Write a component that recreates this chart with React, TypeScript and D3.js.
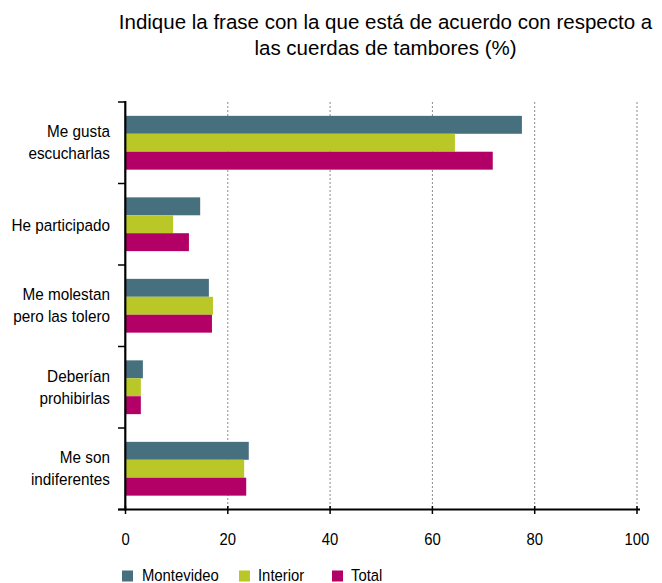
import React from "react";
import * as d3 from "d3";

const categories: string[][] = [
  ["Me gusta", "escucharlas"],
  ["He participado"],
  ["Me molestan", "pero las tolero"],
  ["Deberían", "prohibirlas"],
  ["Me son", "indiferentes"],
];
const seriesNames = ["Montevideo", "Interior", "Total"];
const montevideo = [77.5, 14.6, 16.3, 3.4, 24.1];
const interior = [64.4, 9.3, 17.1, 3.0, 23.2];
const total = [71.8, 12.4, 16.9, 3.0, 23.6];
const xTicks = [0, 20, 40, 60, 80, 100];
const titleLines = [
  "Indique la frase con la que está de acuerdo con respecto a",
  "las cuerdas de tambores (%)",
];
const colors = ["#47707f", "#b9c826", "#b20066"];

const FONT = "'Liberation Sans', Arial, Helvetica, sans-serif";
const SX = 0.9;

export default function App() {
  const W = 662;
  const H = 583;
  const values = [montevideo, interior, total];
  const x = d3.scaleLinear().domain([0, 100]).range([125.5, 637]);
  const catKeys = categories.map((c) => c.join(" "));
  const y = d3.scaleBand<string>().domain(catKeys).range([102, 509.5]).padding(0);
  const bw = y.bandwidth();
  const inner = d3
    .scaleBand<string>()
    .domain(seriesNames)
    .range([bw * 0.17, bw * 0.83])
    .padding(0);
  const axisX = 125.3;
  const axisY = 509.5;
  const boundaries = catKeys.map((k) => y(k) as number).concat([axisY]);

  const legendItems = [
    { sx: 122, tx: 142 },
    { sx: 239, tx: 258 },
    { sx: 332, tx: 351 },
  ];

  return (
    <svg
      width={W}
      height={H}
      style={{ position: "absolute", left: 0, top: 0, background: "#fff" }}
      fontFamily={FONT}
    >
      {titleLines.map((t, i) => (
        <text
          key={i}
          x={385.5}
          y={29 + i * 26}
          textAnchor="middle"
          fontSize={20.5}
          fill="#000"
        >
          {t}
        </text>
      ))}
      {xTicks
        .filter((t) => t > 0)
        .map((t) => (
          <line
            key={t}
            x1={x(t)}
            x2={x(t)}
            y1={102}
            y2={axisY}
            stroke="#8a8a8a"
            strokeWidth={1}
            strokeDasharray="2,2"
          />
        ))}
      {catKeys.map((k, ci) => (
        <g key={k} transform={`translate(0,${y(k)})`}>
          {seriesNames.map((s, si) => (
            <rect
              key={s}
              x={x(0)}
              y={inner(s) as number}
              width={x(values[si][ci]) - x(0)}
              height={inner.bandwidth()}
              fill={colors[si]}
            />
          ))}
        </g>
      ))}
      <line x1={axisX} x2={axisX} y1={101} y2={axisY + 1} stroke="#000" strokeWidth={2.2} />
      {boundaries.map((b, i) => (
        <line key={i} x1={118} x2={axisX} y1={b} y2={b} stroke="#000" strokeWidth={1.5} />
      ))}
      <line x1={118} x2={640} y1={axisY} y2={axisY} stroke="#000" strokeWidth={2.2} />
      {xTicks.map((t) => (
        <line key={t} x1={x(t)} x2={x(t)} y1={506} y2={514} stroke="#000" strokeWidth={1.5} />
      ))}
      {xTicks.map((t) => (
        <text
          key={t}
          transform={`translate(${x(t)},545) scale(${SX},1)`}
          textAnchor="middle"
          fontSize={16.5}
          fill="#000"
        >
          {t}
        </text>
      ))}
      {categories.map((lines, ci) => {
        const c = (y(catKeys[ci]) as number) + bw / 2;
        const n = lines.length;
        return lines.map((ln, li) => {
          const by = n === 1 ? c + 6.5 : c - 5.5 + li * 22;
          return (
            <text
              key={ci + "-" + li}
              transform={`translate(110,${by}) scale(${SX},1)`}
              textAnchor="end"
              fontSize={17}
              fill="#000"
            >
              {ln}
            </text>
          );
        });
      })}
      {seriesNames.map((s, i) => (
        <g key={s}>
          <rect x={legendItems[i].sx} y={570.5} width={11} height={11} fill={colors[i]} />
          <text
            transform={`translate(${legendItems[i].tx},580.5) scale(${SX},1)`}
            fontSize={16.5}
            fill="#000"
          >
            {s}
          </text>
        </g>
      ))}
    </svg>
  );
}
